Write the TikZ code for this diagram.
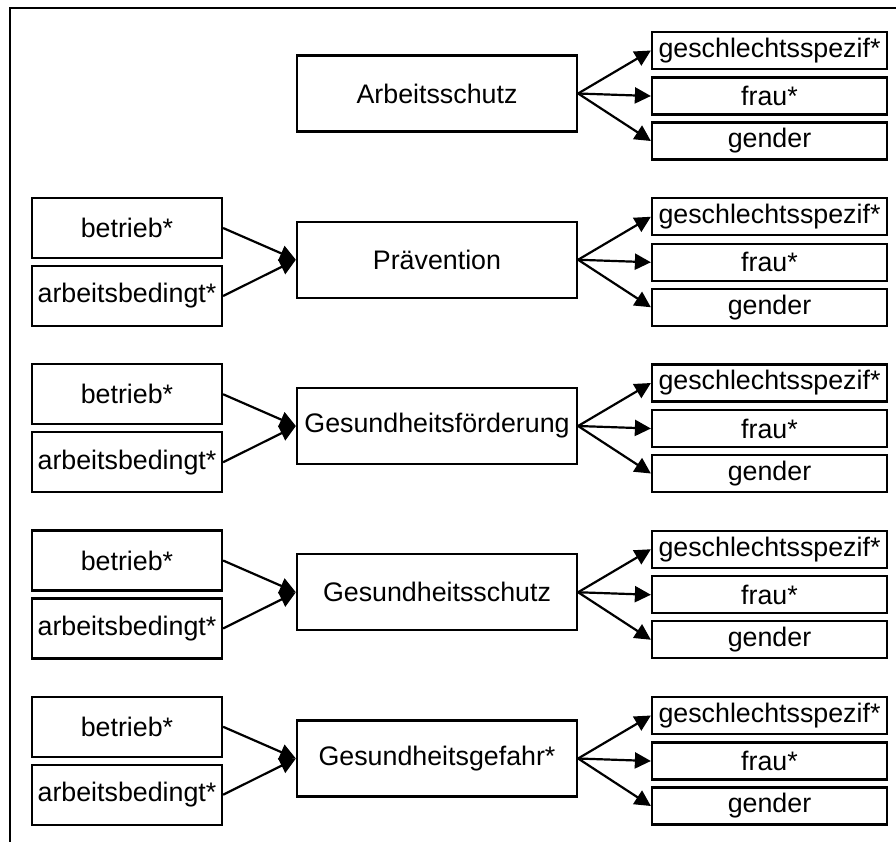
\documentclass[tikz,border=0pt]{standalone}
\usepackage{fontspec}
\setmainfont{Liberation Sans}
\usetikzlibrary{arrows.meta}
\begin{document}
\begin{tikzpicture}[x=0.5pt, y=-0.5pt, line width=1.1pt, >={Triangle[length=8pt,width=8pt]},
    every node/.style={draw, inner sep=0pt, font=\fontsize{13.4}{15}\selectfont},
    topic/.style={minimum width=140pt, minimum height=38pt},
    term/.style={minimum width=117.5pt, minimum height=18.5pt},
    ctx/.style={minimum width=95pt, minimum height=30pt}]
    \useasboundingbox (0,0) rectangle (896,842);
    \draw (10,842) -- (10,8) -- (896,8);
    \foreach \i/\name in {0/Arbeitsschutz, 1/Prävention, 2/Gesundheitsförderung, 3/Gesundheitsschutz, 4/Gesundheitsgefahr*} {
        \node[topic] (t\i) at (437, 93.5+166.25*\i) {\name};
        \node[term] (g\i) at (769.5, 50.5+166.25*\i) {geschlechtsspezif*};
        \node[term] (f\i) at (769.5, 96+166.25*\i) {frau*};
        \node[term] (d\i) at (769.5, 141+166.25*\i) {gender};
        \draw[->] (t\i.east) -- (g\i.west);
        \draw[->] (t\i.east) -- (f\i.west);
        \draw[->] (t\i.east) -- (d\i.west);
        \ifnum\i>0
            \node[ctx] (b\i) at (127, 61.75+166.25*\i) {betrieb*};
            \node[ctx] (a\i) at (127, 129.75+166.25*\i) {arbeitsbedingt*};
            \draw[->] (b\i.east) -- (t\i.west);
            \draw[->] (a\i.east) -- (t\i.west);
        \fi
    }
\end{tikzpicture}
\end{document}
